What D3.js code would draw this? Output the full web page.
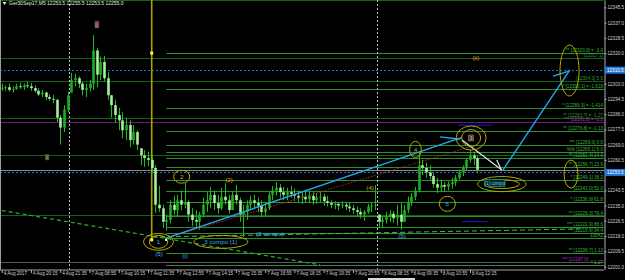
<!DOCTYPE html>
<html>
<head>
<meta charset="utf-8">
<script src="https://cdn.jsdelivr.net/npm/d3@7"></script>
<style>
html, body { margin: 0; padding: 0; background: #000; overflow: hidden; }
svg { display: block; }
text { font-family: "Liberation Sans", "DejaVu Sans", sans-serif; }
</style>
</head>
<body>
<div id="chart"></div>
<script>
// Ger30 M5 chart, one candle per two M5 bars
var title = "Ger30Sep17,M5  12253.5 12255.5 12253.5 12255.0";

var highs = [12303.0,12302.0,12303.0,12301.5,12303.0,12303.5,12303.0,12304.0,12303.5,12302.0,
  12300.5,12299.5,12298.5,12297.0,12296.5,12294.5,12285.5,12291.0,12298.5,12309.0,
  12308.5,12307.0,12304.0,12303.0,12305.0,12330.0,12323.0,12318.0,12318.5,12309.5,
  12296.5,12294.0,12289.5,12287.0,12284.0,12282.5,12280.0,12277.0,12267.0,12266.0,
  12265.0,12263.0,12257.5,12246.0,12235.5,12230.0,12238.0,12240.5,12241.0,12243.5,
  12247.5,12238.0,12233.5,12232.5,12231.5,12239.5,12242.5,12245.5,12243.5,12241.0,
  12245.0,12247.5,12241.0,12242.5,12246.5,12239.5,12235.5,12238.0,12240.5,12241.0,
  12239.5,12238.0,12236.5,12242.5,12246.0,12248.0,12247.0,12245.5,12245.0,12246.0,
  12244.5,12243.5,12242.5,12243.0,12243.5,12242.5,12242.0,12243.0,12241.5,12240.5,
  12238.0,12237.5,12237.0,12237.5,12237.0,12236.5,12235.5,12234.5,12233.5,12232.5,
  12236.0,12236.5,12246.5,12230.0,12229.0,12231.5,12232.5,12232.0,12235.5,12236.5,
  12235.5,12240.0,12242.0,12245.5,12264.5,12260.5,12259.0,12257.5,12253.0,12250.5,
  12249.5,12248.0,12248.5,12250.5,12252.0,12255.0,12257.5,12261.5,12266.0,12265.0,
  12262.5];
var lows = [12299.0,12299.0,12298.5,12298.0,12299.5,12300.0,12299.5,12300.5,12299.0,12298.0,
  12296.0,12295.5,12294.0,12293.5,12292.0,12281.5,12269.0,12276.0,12287.0,12298.0,
  12301.5,12300.5,12296.5,12295.5,12298.5,12299.5,12301.0,12305.0,12304.0,12294.0,
  12284.0,12281.0,12277.0,12272.5,12271.5,12267.5,12269.0,12266.0,12257.5,12256.5,
  12257.0,12253.5,12231.0,12231.5,12222.5,12221.0,12225.0,12230.0,12229.0,12232.5,
  12233.5,12226.0,12223.5,12222.5,12221.5,12228.5,12231.5,12233.5,12232.5,12230.5,
  12232.5,12235.5,12230.5,12232.5,12235.5,12226.0,12217.5,12227.0,12232.5,12233.5,
  12231.5,12228.5,12229.0,12232.5,12238.0,12240.5,12239.5,12238.0,12238.0,12239.5,
  12237.5,12237.0,12236.0,12237.0,12236.5,12235.5,12236.0,12237.0,12235.0,12234.5,
  12233.5,12233.0,12232.5,12233.5,12232.5,12231.5,12230.5,12229.0,12228.0,12226.5,
  12230.5,12231.5,12232.5,12222.5,12223.0,12225.0,12226.0,12225.5,12224.0,12221.5,
  12226.0,12231.0,12235.0,12238.0,12242.5,12252.0,12250.5,12249.5,12245.0,12242.0,
  12242.5,12242.5,12243.5,12244.5,12246.0,12249.5,12251.5,12255.0,12259.0,12257.5,
  12253.0];
var closes = [12300.5,12301.0,12299.5,12300.0,12301.5,12301.0,12302.0,12301.5,12300.5,12299.0,
  12297.0,12298.0,12295.5,12294.5,12294.0,12284.0,12278.5,12288.5,12296.5,12305.0,
  12306.0,12303.0,12299.5,12300.5,12303.0,12321.5,12308.0,12315.0,12306.0,12296.5,
  12291.0,12285.5,12282.5,12277.0,12280.0,12271.5,12276.0,12269.0,12263.0,12261.5,
  12260.5,12256.0,12235.5,12233.5,12226.0,12227.0,12235.5,12232.5,12238.0,12235.5,
  12237.0,12230.0,12227.0,12226.0,12230.0,12235.5,12238.0,12241.0,12236.5,12233.5,
  12240.0,12238.0,12232.5,12241.0,12238.0,12230.0,12231.5,12235.5,12238.0,12236.5,
  12235.0,12231.5,12233.5,12241.0,12243.5,12245.0,12242.5,12241.0,12242.5,12241.5,
  12240.5,12239.5,12240.0,12238.5,12240.5,12238.0,12239.5,12240.0,12237.5,12236.5,
  12235.5,12236.0,12235.0,12235.5,12234.5,12233.5,12232.5,12231.5,12230.0,12231.5,
  12234.5,12235.0,12235.5,12226.0,12227.0,12229.0,12230.5,12228.0,12230.0,12226.0,
  12232.5,12236.5,12240.0,12243.5,12257.5,12256.0,12253.5,12251.5,12247.0,12245.0,
  12246.5,12245.5,12247.0,12248.0,12250.5,12253.5,12256.0,12260.5,12263.0,12261.5,
  12255.0];

var timeLabels = ["4 Aug 2017","4 Aug 20:15","4 Aug 21:35","7 Aug 08:55","7 Aug 10:15","7 Aug 11:35",
  "7 Aug 12:55","7 Aug 14:15","7 Aug 15:35","7 Aug 16:55","7 Aug 18:15","7 Aug 19:35",
  "7 Aug 20:55","8 Aug 08:15","8 Aug 09:35","8 Aug 10:55","8 Aug 12:15"];
var timeLabelBars = [0,8,16,24,32,40,48,56,64,72,80,88,96,104,112,120,128];
// 12311.5 and 12252.0 sit under the price boxes
var priceTicks = [12345.5,12337.0,12328.5,12320.0,12303.0,12294.5,12286.0,12277.5,12269.0,
  12260.5,12243.5,12235.0,12226.5,12218.0,12209.5,12201.0];
var daySeparators = [18.5, 102.6];

// fibonacci / projection levels, drawn from the wave 1 bar
var fibStartBar = 45;
var fibLevels = [12320.0,12300.1,12289.3,12276.8,12269.0,12265.1,12261.4,12256.7,12249.1,12243.0,
  12236.9,12229.3,12222.9,12219.9,12217.0,12208.7,12202.0];
var fibTexts = ["** [12320.0] = -3.0","* [12300.1] = -1.618","* [12289.3] = -1.414","** [12276.8] = -1.13",
  "*** [12269.0]  0.0","%% [12265.1]  8.0","** [12261.4]  14.6","** [12256.7]  23.6","* [12249.1]  38.2",
  "[12243.0]  50.0","* [12236.9]  61.8","** [12229.3]  76.4","*** [12222.9]  88.6","* [12219.9]  94.4",
  "100=2","** [12208.7]  1.13","* 1.27"];
var levelLines = [12317.1, 12304.3, 12283.7, 12263.2, 12229.8];
var levelTexts = ["[12317.1]", "[12304.3]   5.5", "** [12283.7] = -1.27", "", ""];
var purpleLines = [12281.8, 12203.5];
var purpleTexts = ["*** [12281.8] = -1.2", "*** [12197.0]"];
var bidPrice = 12255.0;
var dottedLines = [12310.5, 12253.5];

// wave marks: [bar, price, text]
var cyanLabels = [[42.85,12214.8,"1"],[43,12208.1,"(5)"],[50.1,12207.1,"(i)"],[59.9,12214.8,"3 compo (1)"],
  [73.3,12219.3,"(3 compo)"],[109.4,12218.1,"(5)"],[121.8,12236.0,"5"]];
var orangeLabels = [[49.2,12251.1,"2"],[62.1,12249.3,"(2)"],[100.7,12244.8,"(4)"],[113.1,12266.3,"4"],[129.6,12317.6,"(ii)"]];
// ellipses: [bar, price, bar radius, price radius]
var ellipses = [[42.85,12214.8,4.1,4.7],[42.85,12214.8,2.5,3.6],[49.2,12251.1,2.2,3.6],[59.9,12214.8,7.4,3.6],
  [113.1,12266.3,1.6,4.5],[121.8,12236.0,2.2,4.2],[128.3,12272.7,4.1,6.7],[128.3,12272.7,2.6,4.7],
  [136.7,12247.0,6.6,4.2],[136.7,12247.0,4.8,2.5],[155.2,12310.3,2.6,14.2],[155.6,12252.6,1.9,7.8]];
// lines: [bar1, price1, bar2, price2]
var cyanLines = [[44.8,12216.7,125.8,12273.0],[119.8,12273.3,125.3,12272.0],[137,12254.9,155.3,12310.6],[150.7,12307.2,155,12310.0]];
var whiteLines = [[125.8,12271.6,136.7,12254.9],[135.3,12260.4,136.6,12254.9]];
var redDotted = [[45.2,12217.0,128,12267.7]];
var greenDashed = [[0,12232.3,87,12202.0]];
var lightDashed = [[41.1,12217.5,158,12222.0]];
var blueShort = [[124.7,12279.8,134,12279.8],[125.8,12226.1,132.9,12226.1]];
var startBar = 41, startHigh = 12320.0, startLow = 12215.9;
var composBox = [134.8, 12247.6, "(1) compo"];
var threeBox = [128.3, 12272.7, "3"];

var width = 625, height = 280, plotW = 604, plotH = 269.5;
var x = d3.scaleLinear().domain([0, 165]).range([1.7, 605.4]);
var y = d3.scaleLinear().domain([12199.4, 12349.6]).range([plotH, 0]);

var svg = d3.select("#chart").append("svg").attr("width", width).attr("height", height);
svg.append("rect").attr("width", width).attr("height", height).attr("fill", "#000");
svg.append("defs").append("clipPath").attr("id", "plotclip")
  .append("rect").attr("width", plotW).attr("height", plotH);
var plot = svg.append("g").attr("clip-path", "url(#plotclip)");

function hline(price, x1, color, dash, w) {
  plot.append("line").attr("x1", x1).attr("x2", plotW)
    .attr("y1", Math.round(y(price)) + 0.5).attr("y2", Math.round(y(price)) + 0.5)
    .attr("stroke", color).attr("stroke-width", w || 1)
    .attr("stroke-dasharray", dash || null);
}
function segs(list, color, dash, w) {
  plot.selectAll(null).data(list).join("line")
    .attr("x1", function (d) { return x(d[0]); }).attr("y1", function (d) { return y(d[1]); })
    .attr("x2", function (d) { return x(d[2]); }).attr("y2", function (d) { return y(d[3]); })
    .attr("stroke", color).attr("stroke-width", w || 1)
    .attr("stroke-dasharray", dash || null);
}

// top border
plot.append("line").attr("x1", 0).attr("x2", plotW).attr("y1", 0.5).attr("y2", 0.5).attr("stroke", "#135f13");

// horizontal levels
levelLines.forEach(function (p) { hline(p, 0, "#14601a"); });
purpleLines.forEach(function (p, i) { hline(p, 0, i == 0 ? "#6c1a78" : "#6a4a70"); });
fibLevels.forEach(function (p) { hline(p, x(fibStartBar), "#2f8f2f"); });
hline(bidPrice, 0, "#8a8a8a");
dottedLines.forEach(function (p) { hline(p, 0, "#1f6fd0", "2,2"); });

// day separators
plot.selectAll(null).data(daySeparators).join("line")
  .attr("x1", function (d) { return Math.round(x(d)) + 0.5; })
  .attr("x2", function (d) { return Math.round(x(d)) + 0.5; })
  .attr("y1", 0).attr("y2", plotH)
  .attr("stroke", "#bdbdbd").attr("stroke-dasharray", "2,2");

// level texts on the right
var txt = plot.append("g").attr("font-size", 4.6).attr("text-anchor", "end");
fibLevels.forEach(function (p, i) {
  txt.append("text").attr("x", plotW - 1).attr("y", y(p) - 1).attr("fill", "#3fb23f").text(fibTexts[i]);
});
levelLines.forEach(function (p, i) {
  if (levelTexts[i]) txt.append("text").attr("x", plotW - 1).attr("y", y(p) - 1).attr("fill", "#2f9a2f").text(levelTexts[i]);
});
purpleLines.forEach(function (p, i) {
  txt.append("text").attr("x", i == 0 ? plotW - 1 : plotW - 16).attr("y", y(p) - 1).attr("fill", "#a030b0").text(purpleTexts[i]);
});

// trend lines under the candles
segs(greenDashed, "#2cb02c", "4,3", 1.2);
segs(lightDashed, "#39c239", "5,3", 1);

// yellow start line
plot.append("line").attr("x1", x(startBar)).attr("x2", x(startBar))
  .attr("y1", 0).attr("y2", y(startLow)).attr("stroke", "#a8a800").attr("stroke-width", 1.6);

// candles
var bars = closes.map(function (c, i) {
  var o = i == 0 ? c : closes[i - 1];
  o = Math.max(lows[i], Math.min(highs[i], o));
  return { i: i, o: o, h: highs[i], l: lows[i], c: c };
});
var cg = plot.append("g");
cg.selectAll("line").data(bars).join("line")
  .attr("x1", function (d) { return Math.round(x(d.i)) + 0.5; })
  .attr("x2", function (d) { return Math.round(x(d.i)) + 0.5; })
  .attr("y1", function (d) { return y(d.h); }).attr("y2", function (d) { return y(d.l); })
  .attr("stroke", "#22b822").attr("stroke-width", 1);
cg.selectAll("rect").data(bars).join("rect")
  .attr("x", function (d) { return Math.round(x(d.i)) - 0.8; })
  .attr("width", 2.6)
  .attr("y", function (d) { return y(Math.max(d.o, d.c)); })
  .attr("height", function (d) { return Math.max(0.8, Math.abs(y(d.o) - y(d.c))); })
  .attr("fill", function (d) { return d.c >= d.o ? "#1fae1f" : "#a8eea0"; });

// wave lines
segs(redDotted, "#c02828", "1.5,1.5", 1);
segs(cyanLines, "#22aaee", null, 1.4);
segs(whiteLines, "#dde8f0", null, 1.2);
segs(blueShort, "#1a1ad0", null, 1);

// ellipses
plot.selectAll("ellipse").data(ellipses).join("ellipse")
  .attr("cx", function (d) { return x(d[0]); }).attr("cy", function (d) { return y(d[1]); })
  .attr("rx", function (d) { return x(d[0] + d[2]) - x(d[0]); })
  .attr("ry", function (d) { return y(d[1] - d[3]) - y(d[1]); })
  .attr("fill", "none").attr("stroke", "#b8a800").attr("stroke-width", 1);

// markers on the start line
plot.append("rect").attr("x", x(startBar) - 1.5).attr("y", y(startHigh) - 1.5).attr("width", 3).attr("height", 3).attr("fill", "#ffff20");
plot.append("rect").attr("x", x(startBar) - 1.5).attr("y", y(startLow) - 1.5).attr("width", 3).attr("height", 3).attr("fill", "#ffff20");
plot.append("rect").attr("x", x(44.9) - 1).attr("y", y(startLow) - 1).attr("width", 2).attr("height", 2).attr("fill", "#ffffff");

// boxes
plot.append("rect").attr("x", x(composBox[0]) - 10).attr("y", y(composBox[1]) - 3.5).attr("width", 20).attr("height", 7)
  .attr("fill", "#0c2a2c").attr("stroke", "#2a9a9a").attr("stroke-width", 0.7);
plot.append("text").attr("x", x(composBox[0])).attr("y", y(composBox[1]) + 1.6).attr("text-anchor", "middle")
  .attr("font-size", 4.6).attr("fill", "#50d0d0").text(composBox[2]);
plot.append("rect").attr("x", x(threeBox[0]) - 2.5).attr("y", y(threeBox[1]) - 3).attr("width", 5).attr("height", 6)
  .attr("fill", "#4e4038").attr("stroke", "#a08060").attr("stroke-width", 0.6);
plot.append("text").attr("x", x(threeBox[0])).attr("y", y(threeBox[1]) + 1.7).attr("text-anchor", "middle")
  .attr("font-size", 4.6).attr("fill", "#e8c890").text(threeBox[2]);
plot.append("rect").attr("x", x(26) - 2).attr("y", y(12336) - 3.5).attr("width", 4).attr("height", 7).attr("fill", "#707070");
plot.append("rect").attr("x", x(26) - 2).attr("y", y(12336) - 3.5).attr("width", 4).attr("height", 2).attr("fill", "#c02020");
plot.append("rect").attr("x", x(12.4) - 2).attr("y", y(12262) - 3).attr("width", 4).attr("height", 6).attr("fill", "#5a5a30");
plot.append("text").attr("x", x(12.4)).attr("y", y(12262) + 1.7).attr("text-anchor", "middle")
  .attr("font-size", 4.6).attr("fill", "#d8c070").text("i");

// wave labels
plot.selectAll(null).data(cyanLabels).join("text")
  .attr("x", function (d) { return x(d[0]); }).attr("y", function (d) { return y(d[1]) + 2.2; })
  .attr("text-anchor", "middle").attr("font-size", 6.2).attr("fill", "#34b4f0").text(function (d) { return d[2]; });
plot.selectAll(null).data(orangeLabels).join("text")
  .attr("x", function (d) { return x(d[0]); }).attr("y", function (d) { return y(d[1]) + 2.2; })
  .attr("text-anchor", "middle").attr("font-size", 6.2).attr("fill", "#e0a010").text(function (d) { return d[2]; });

// left border
svg.append("line").attr("x1", 0.5).attr("x2", 0.5).attr("y1", 0).attr("y2", plotH).attr("stroke", "#9a9a9a");
svg.append("line").attr("x1", 0).attr("x2", plotW).attr("y1", plotH + 0.5).attr("y2", plotH + 0.5).attr("stroke", "#a8a8a8");

// header
svg.append("path").attr("d", "M2.5,2 L6.5,2 L4.5,5 Z").attr("fill", "#e8e8e8");
svg.append("text").attr("x", 9).attr("y", 5.2).attr("font-size", 5).attr("fill", "#e8e8e8").text(title);

// price axis
var yAxis = svg.append("g").attr("transform", "translate(" + plotW + ".5,0)")
  .call(d3.axisRight(y).tickValues(priceTicks).tickSize(2).tickSizeOuter(0).tickFormat(d3.format(".1f")));
yAxis.select(".domain").attr("stroke", "#b0b0b0");
yAxis.selectAll(".tick line").attr("stroke", "#b0b0b0");
yAxis.selectAll(".tick text").attr("x", 3).attr("font-size", 4.6).attr("fill", "#d0d0d0")
  .attr("font-family", "Liberation Sans, DejaVu Sans, sans-serif");

// price boxes
dottedLines.forEach(function (p) {
  svg.append("rect").attr("x", plotW + 1).attr("y", y(p) - 3.5).attr("width", 20).attr("height", 7).attr("fill", "#1f78d8");
  svg.append("text").attr("x", plotW + 3).attr("y", y(p) + 1.6).attr("font-size", 4.6).attr("fill", "#ffffff").text(d3.format(".1f")(p));
});

// time axis
var xAxis = svg.append("g").attr("transform", "translate(0," + (plotH + 0.5) + ")")
  .call(d3.axisBottom(x).tickValues(timeLabelBars).tickSize(3).tickSizeOuter(0)
    .tickFormat(function (d, i) { return timeLabels[i]; }));
xAxis.select(".domain").remove();
xAxis.selectAll(".tick line").attr("stroke", "#b0b0b0");
xAxis.selectAll(".tick text").attr("text-anchor", "start").attr("x", 1.5).attr("y", 1.5)
  .attr("font-size", 4.6).attr("fill", "#d0d0d0").attr("font-family", "Liberation Sans, DejaVu Sans, sans-serif");

// scroll marker
svg.append("rect").attr("x", 368).attr("y", 278).attr("width", 47).attr("height", 2).attr("fill", "#d8d8d8");
</script>
</body>
</html>
